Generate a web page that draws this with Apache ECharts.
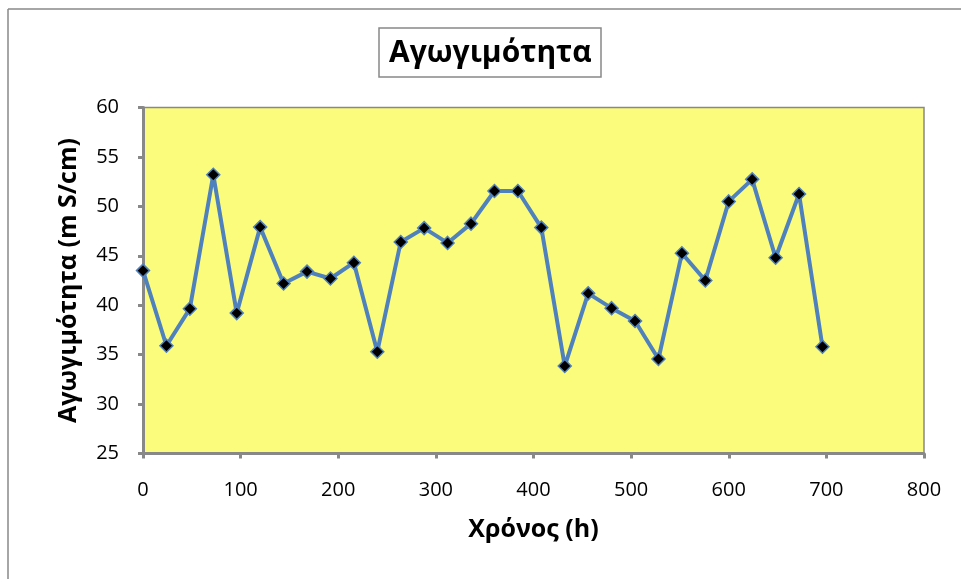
<!DOCTYPE html>
<html><head><meta charset="utf-8">
<script src="https://cdn.jsdelivr.net/npm/echarts@6/dist/echarts.min.js"></script>
<style>html,body{margin:0;padding:0;background:#fff}#c{width:961px;height:579px}</style>
</head><body><div id="c"></div>
<script>
const hours = [0,24,48,72,96,120,144,168,192,216,240,264,288,312,336,360,384,408,432,456,480,504,528,552,576,600,624,648,672,696];
const conductivity = [43.5,35.9,39.65,53.2,39.2,47.9,42.2,43.4,42.7,44.3,35.3,46.4,47.8,46.3,48.25,51.55,51.55,47.85,33.85,41.2,39.7,38.4,34.56,45.25,42.5,50.5,52.73,44.8,51.25,35.8];
const titleText = 'Αγωγιμότητα';
const xName = 'Χρόνος (h)';
const yName = 'Αγωγιμότητα (m S/cm)';

const chart = echarts.init(document.getElementById('c'));
const font = 'Open Sans';
chart.setOption({
  animation:false,
  backgroundColor:'#fff',
  title:{text:titleText,left:379,top:28,padding:[8,10,7,10],borderColor:'#888',borderWidth:1.5,
    textStyle:{fontFamily:font,fontWeight:'bold',fontSize:30,lineHeight:34,color:'#000'}},
  graphic:[
    {type:'line',shape:{x1:8,y1:9,x2:961,y2:9},style:{stroke:'#888',lineWidth:1.5},silent:true},
    {type:'line',shape:{x1:8,y1:9,x2:8,y2:579},style:{stroke:'#888',lineWidth:1.5},silent:true}
  ],
  grid:{left:143,top:107.5,right:37,bottom:125.5,show:true,backgroundColor:'#FCFC7C',borderColor:'#888',borderWidth:1.5},
  xAxis:{type:'value',min:0,max:800,interval:100,name:xName,nameLocation:'middle',nameGap:64,
    nameTextStyle:{fontFamily:font,fontWeight:'bold',fontSize:25,color:'#000'},
    axisLine:{show:true,lineStyle:{color:'#888',width:3}},
    axisTick:{show:true,length:5,lineStyle:{color:'#888',width:3}},
    axisLabel:{fontFamily:font,fontSize:20,color:'#000',margin:27},
    splitLine:{show:false}},
  yAxis:{type:'value',min:25,max:60,interval:5,name:yName,nameLocation:'middle',nameGap:62,
    nameTextStyle:{fontFamily:font,fontWeight:'bold',fontSize:25,color:'#000'},
    axisLine:{show:true,lineStyle:{color:'#888',width:3}},
    axisTick:{show:true,length:5,lineStyle:{color:'#888',width:3}},
    axisLabel:{fontFamily:font,fontSize:20,color:'#000',margin:24},
    splitLine:{show:false}},
  series:[{type:'line',data:hours.map((h,i)=>[h,conductivity[i]]),
    lineStyle:{color:'#4F81BD',width:4},
    symbol:'diamond',symbolSize:13,
    itemStyle:{color:'#000',borderColor:'#4F81BD',borderWidth:1.5}}]
});
</script></body></html>
